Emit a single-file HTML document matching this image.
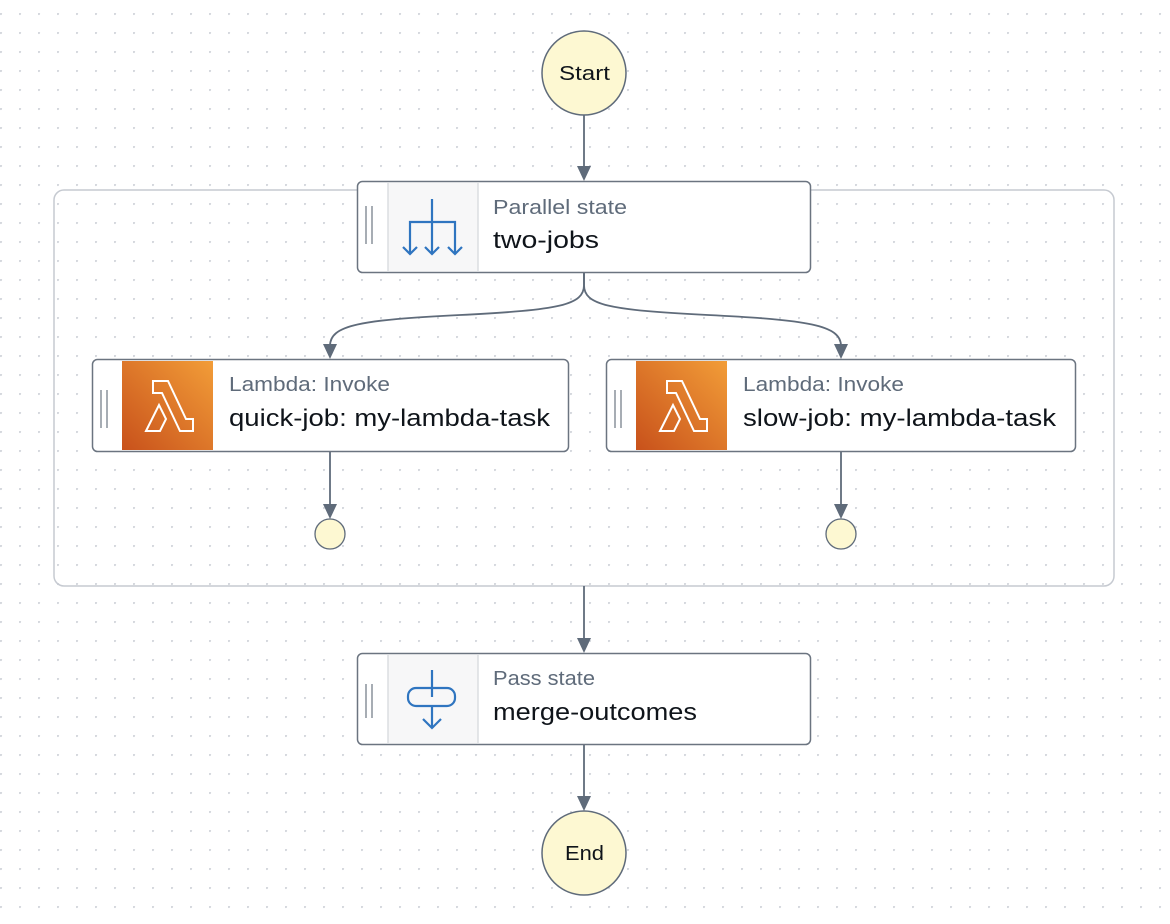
<!DOCTYPE html>
<html><head><style>
body{margin:0;width:1170px;height:924px;overflow:hidden;background:#fff;font-family:"Liberation Sans",sans-serif;}
svg{position:absolute;left:0;top:0}
</style></head><body>
<svg width="1170" height="924" viewBox="0 0 1170 924">
<defs>
<pattern id="dots" x="0" y="13" width="19" height="19" patternUnits="userSpaceOnUse"><circle cx="0.8" cy="0.8" r="1.3" fill="#d5d8de"/></pattern>
<linearGradient id="og" x1="0" y1="1" x2="1" y2="0"><stop offset="0" stop-color="#c8511b"/><stop offset="1" stop-color="#f29d38"/></linearGradient>
</defs>
<rect width="1170" height="924" fill="url(#dots)"/>
<rect x="54" y="190" width="1060" height="396" rx="10" fill="none" stroke="#c6cad1" stroke-width="1.5"/>
<g stroke="#5f6b7a" stroke-width="1.8" fill="none">
<path d="M584 115 L584 168"/>
<path d="M584 273 L584 285 C584 305 560 310 460 315 C360 320 330 325 330 346"/>
<path d="M584 273 L584 285 C584 305 608 310 708 315 C808 320 841 325 841 346"/>
<path d="M330 452 L330 506"/>
<path d="M841 452 L841 506"/>
<path d="M584 586 L584 640"/>
<path d="M584 745 L584 798"/>
</g>
<g fill="#5f6b7a">
<path d="M577 166 H591 L584 181 Z"/>
<path d="M323 344 H337 L330 359 Z"/>
<path d="M834 344 H848 L841 359 Z"/>
<path d="M323 504 H337 L330 519 Z"/>
<path d="M834 504 H848 L841 519 Z"/>
<path d="M577 638 H591 L584 653 Z"/>
<path d="M577 796 H591 L584 811 Z"/>
</g>
<circle cx="584" cy="73" r="42" fill="#fdf8d2" stroke="#5f6b7a" stroke-width="1.5"/>
<text x="559" y="80" font-size="20" fill="#0f141a" textLength="51" lengthAdjust="spacingAndGlyphs">Start</text>
<circle cx="584" cy="853" r="42" fill="#fdf8d2" stroke="#5f6b7a" stroke-width="1.5"/>
<text x="565" y="860" font-size="20" fill="#0f141a" textLength="39" lengthAdjust="spacingAndGlyphs">End</text>
<circle cx="330" cy="534" r="15" fill="#fdf8d2" stroke="#5f6b7a" stroke-width="1.3"/>
<circle cx="841" cy="534" r="15" fill="#fdf8d2" stroke="#5f6b7a" stroke-width="1.3"/>

<!-- parallel -->
<rect x="357.5" y="181.5" width="453" height="91" rx="5" fill="#fff" stroke="#6b7480" stroke-width="1.5"/>
<rect x="388" y="183" width="90" height="88" fill="#f7f7f8"/>
<path d="M388 183 V271 M478 183 V271" stroke="#d6d9dd" stroke-width="1.3"/>
<path d="M366 206 V244 M372 206 V244" stroke="#8a929c" stroke-width="1.5"/>
<g stroke="#2f75c0" stroke-width="2.2" fill="none">
<path d="M432 199 V254 M410 254 V222 H455 V254"/>
<path d="M403 247 L410 254 L417 247 M425 247 L432 254 L439 247 M448 247 L455 254 L462 247"/>
</g>
<text x="493" y="214" font-size="20" fill="#5f6b7a" textLength="134" lengthAdjust="spacingAndGlyphs">Parallel state</text>
<text x="493" y="248" font-size="24" fill="#0f141a" textLength="106" lengthAdjust="spacingAndGlyphs">two-jobs</text>

<!-- lambda left -->
<rect x="92.5" y="359.5" width="476" height="92" rx="5" fill="#fff" stroke="#6b7480" stroke-width="1.5"/>
<rect x="122" y="361" width="91" height="89" fill="url(#og)"/>
<path d="M101 390 V428 M107 390 V428" stroke="#8a929c" stroke-width="1.5"/>
<path d="M153 381 H168 L186 419 H193 V431 H180 L162 393 H153 Z M146 431 L159 405 L166 419 L160 431 Z" fill="none" stroke="#fff" stroke-width="2"/>
<text x="229" y="391" font-size="20" fill="#5f6b7a" textLength="161" lengthAdjust="spacingAndGlyphs">Lambda: Invoke</text>
<text x="229" y="426" font-size="24" fill="#0f141a" textLength="321" lengthAdjust="spacingAndGlyphs">quick-job: my-lambda-task</text>

<!-- lambda right -->
<rect x="606.5" y="359.5" width="469" height="92" rx="5" fill="#fff" stroke="#6b7480" stroke-width="1.5"/>
<rect x="636" y="361" width="91" height="89" fill="url(#og)"/>
<path d="M615 390 V428 M621 390 V428" stroke="#8a929c" stroke-width="1.5"/>
<path d="M667 381 H682 L700 419 H707 V431 H694 L676 393 H667 Z M660 431 L673 405 L680 419 L674 431 Z" fill="none" stroke="#fff" stroke-width="2"/>
<text x="743" y="391" font-size="20" fill="#5f6b7a" textLength="161" lengthAdjust="spacingAndGlyphs">Lambda: Invoke</text>
<text x="743" y="426" font-size="24" fill="#0f141a" textLength="313" lengthAdjust="spacingAndGlyphs">slow-job: my-lambda-task</text>

<!-- pass -->
<rect x="357.5" y="653.5" width="453" height="91" rx="5" fill="#fff" stroke="#6b7480" stroke-width="1.5"/>
<rect x="388" y="655" width="90" height="88" fill="#f7f7f8"/>
<path d="M388 655 V743 M478 655 V743" stroke="#d6d9dd" stroke-width="1.3"/>
<path d="M366 684 V718 M372 684 V718" stroke="#8a929c" stroke-width="1.5"/>
<g stroke="#2f75c0" stroke-width="2.2" fill="none">
<path d="M432 670 V697"/>
<rect x="408" y="688" width="47" height="18" rx="8"/>
<path d="M432 706 V728 M423 719 L432 728 L441 719"/>
</g>
<text x="493" y="685" font-size="20" fill="#5f6b7a" textLength="102" lengthAdjust="spacingAndGlyphs">Pass state</text>
<text x="493" y="720" font-size="24" fill="#0f141a" textLength="204" lengthAdjust="spacingAndGlyphs">merge-outcomes</text>
</svg>
</body></html>
